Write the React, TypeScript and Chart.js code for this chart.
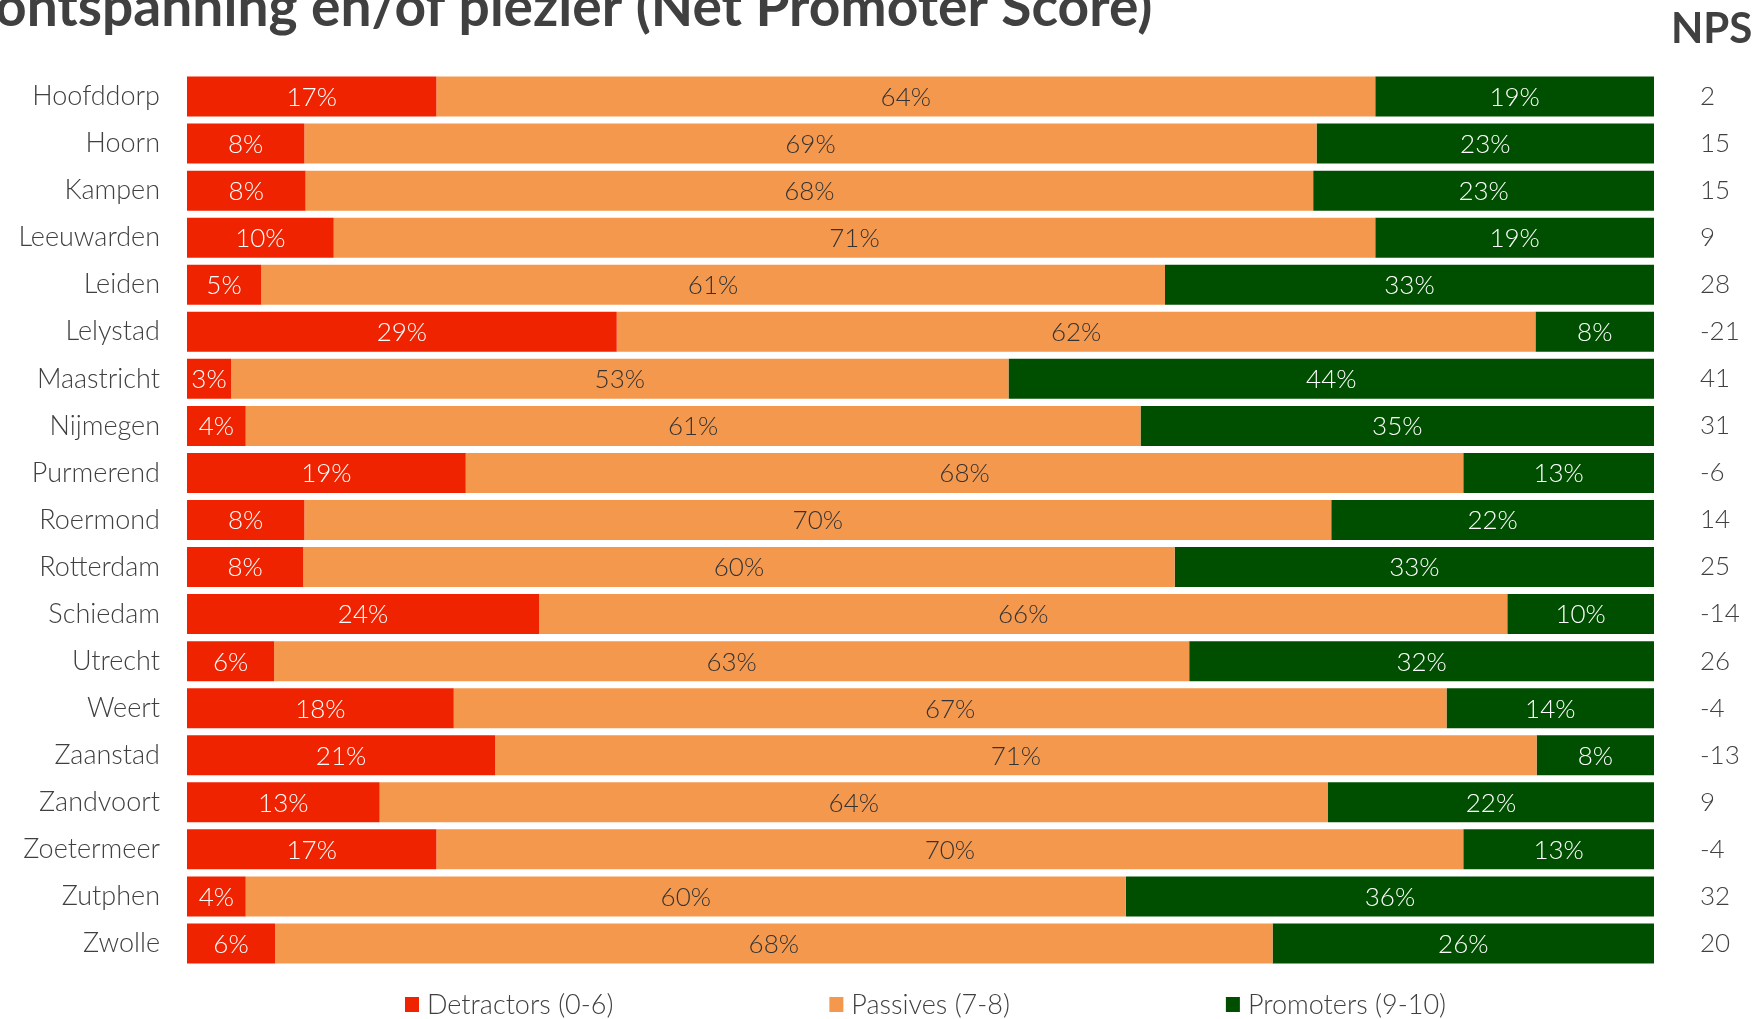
import React, { useEffect, useRef } from "react";
import { Chart, registerables } from "chart.js";

Chart.register(...registerables);

const categories = [
  "Hoofddorp", "Hoorn", "Kampen", "Leeuwarden", "Leiden", "Lelystad", "Maastricht",
  "Nijmegen", "Purmerend", "Roermond", "Rotterdam", "Schiedam", "Utrecht", "Weert",
  "Zaanstad", "Zandvoort", "Zoetermeer", "Zutphen", "Zwolle",
];
const detractors = [17, 8, 8, 10, 5, 29, 3, 4, 19, 8, 8, 24, 6, 18, 21, 13, 17, 4, 6];
const passives = [64, 69, 68, 71, 61, 62, 53, 61, 68, 70, 60, 66, 63, 67, 71, 64, 70, 60, 68];
const promoters = [19, 23, 23, 19, 33, 8, 44, 35, 13, 22, 33, 10, 32, 14, 8, 22, 13, 36, 26];
const npsScores = [2, 15, 15, 9, 28, -21, 41, 31, -6, 14, 25, -14, 26, -4, -13, 9, -4, 32, 20];
const seriesNames = ["Detractors (0-6)", "Passives (7-8)", "Promoters (9-10)"];
const titleText = "ontspanning en/of plezier (Net Promoter Score)";
const npsHeader = "NPS";

const COLORS = ["#F02300", "#F4984E", "#004F00"];
const LABEL_COLORS = ["#FFFFFF", "#333333", "#FFFFFF"];
const TEXT = "#404040";
const FAMILY = "Lato, 'Open Sans', sans-serif";

export default function App() {
  const ref = useRef<HTMLCanvasElement>(null);

  useEffect(() => {
    if (!ref.current) return;
    const raw = [detractors, passives, promoters];
    const totals = categories.map((_, i) => detractors[i] + passives[i] + promoters[i]);
    const datasets = raw.map((arr, k) => ({
      label: seriesNames[k],
      data: arr.map((v, i) => (v / totals[i]) * 100),
      backgroundColor: COLORS[k],
      borderWidth: 0,
      barPercentage: 0.85,
      categoryPercentage: 1,
    }));

    const overlay = {
      id: "overlay",
      afterDatasetsDraw(chart: any) {
        const ctx = chart.ctx as CanvasRenderingContext2D;
        const area = chart.chartArea;
        const yScale = chart.scales.y;
        ctx.save();
        // segment labels
        ctx.font = `300 26px ${FAMILY}`;
        ctx.textAlign = "center";
        ctx.textBaseline = "middle";
        chart.data.datasets.forEach((_: any, k: number) => {
          const meta = chart.getDatasetMeta(k);
          meta.data.forEach((bar: any, i: number) => {
            const { x, base, y } = bar.getProps(["x", "base", "y"], true);
            ctx.fillStyle = LABEL_COLORS[k];
            ctx.fillText(raw[k][i] + "%", (x + base) / 2, y + 1);
          });
        });
        // NPS column
        ctx.font = `300 26px ${FAMILY}`;
        ctx.textAlign = "left";
        ctx.fillStyle = TEXT;
        npsScores.forEach((v, i) => {
          ctx.fillText(String(v), area.right + 46, yScale.getPixelForValue(i));
        });
        // NPS header
        ctx.font = `bold 42px ${FAMILY}`;
        ctx.textBaseline = "alphabetic";
        ctx.fillText(npsHeader, area.right + 17, 43);
        // title
        ctx.font = `bold 40px ${FAMILY}`;
        const w = ctx.measureText(titleText).width;
        const size = (40 * 1158) / w;
        ctx.font = `bold ${size.toFixed(1)}px ${FAMILY}`;
        ctx.fillText(titleText, -5, 26);
        // legend
        ctx.font = `300 27px ${FAMILY}`;
        ctx.textBaseline = "middle";
        const boxW = 14, boxH = 15, boxGap = 8, itemGap = 216;
        const widths = seriesNames.map((s) => ctx.measureText(s).width);
        const total =
          widths.reduce((a, b) => a + b, 0) + seriesNames.length * (boxW + boxGap) + itemGap * (seriesNames.length - 1);
        let lx = (area.left + area.right) / 2 + 5 - total / 2;
        const ly = 1005;
        seriesNames.forEach((s, k) => {
          ctx.fillStyle = COLORS[k];
          ctx.fillRect(lx, ly - 8, boxW, boxH);
          ctx.fillStyle = TEXT;
          ctx.fillText(s, lx + boxW + boxGap, ly);
          lx += boxW + boxGap + widths[k] + itemGap;
        });
        ctx.restore();
      },
    };

    const chart = new Chart(ref.current, {
      type: "bar",
      data: { labels: categories, datasets },
      options: {
        indexAxis: "y",
        animation: false,
        responsive: true,
        maintainAspectRatio: false,
        layout: { padding: { top: 73, right: 105, bottom: 52, left: 0 } },
        plugins: {
          legend: { display: false },
          tooltip: { enabled: false },
          title: { display: false },
        },
        scales: {
          x: { stacked: true, min: 0, max: 100, display: false },
          y: {
            stacked: true,
            grid: { display: false, drawTicks: false },
            border: { display: false },
            ticks: {
              autoSkip: false,
              padding: 27,
              color: TEXT,
              font: { family: FAMILY, size: 27, weight: "300" as any },
            },
            afterFit(scale: any) {
              scale.width = 187;
            },
          },
        },
      } as any,
      plugins: [overlay],
    });
    return () => chart.destroy();
  }, []);

  return (
    <div style={{ position: "fixed", left: 0, top: 0, width: 1759, height: 1019, background: "#fff" }}>
      <canvas ref={ref} />
    </div>
  );
}
